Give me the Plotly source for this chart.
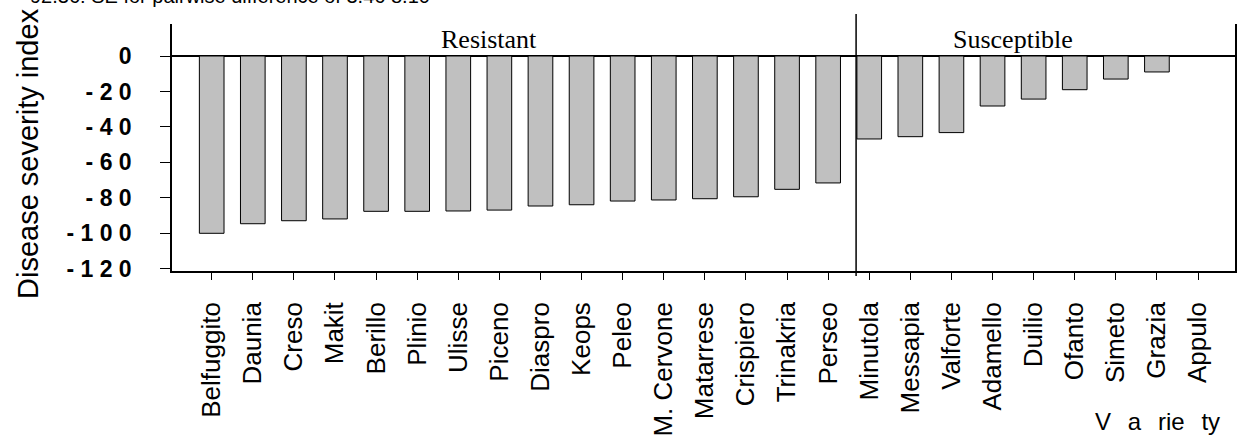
import plotly.graph_objects as go

varieties = ["Belfuggito", "Daunia", "Creso", "Makit", "Berillo", "Plinio", "Ulisse",
             "Piceno", "Diaspro", "Keops", "Peleo", "M. Cervone", "Matarrese", "Crispiero",
             "Trinakria", "Perseo", "Minutola", "Messapia", "Valforte", "Adamello", "Duilio",
             "Ofanto", "Simeto", "Grazia", "Appulo"]
severity = [-100.0, -94.6, -92.9, -91.9, -87.6, -87.6, -87.4, -86.9, -84.6, -83.9,
            -81.8, -81.2, -80.5, -79.4, -75.2, -71.6, -46.8, -45.5, -43.2, -28.2,
            -24.3, -19.0, -13.0, -9.0, 0.0]
y_ticks = [0, -20, -40, -60, -80, -100, -120]
y_ticktext = ["0", "- 2 0", "- 4 0", "- 6 0", "- 8 0", "- 1 0 0", "- 1 2 0"]
groups = ["Resistant", "Susceptible"]
group_centers = [6.75, 19.5]
split_pos = 15.68
note = "92.36: SE for pairwise difference of 3.46 8.10"

x_idx = list(range(len(varieties)))

fig = go.Figure()
fig.add_trace(go.Bar(
    x=x_idx, y=severity, width=0.6,
    marker=dict(color="#c0c0c0", line=dict(color="black", width=1)),
    showlegend=False,
))

W, H = 1237, 439
L, R, T, B = 172, 2, 24, 168
pw, ph = W - L - R, H - T - B

def px(xp):
    return (xp - L) / pw

def py(yp):
    return (H - B - yp) / ph

fig.update_layout(
    width=W, height=H,
    margin=dict(l=L, r=R, t=T, b=B, pad=0, autoexpand=False),
    paper_bgcolor="white", plot_bgcolor="white",
    font=dict(family="Liberation Sans, Arial, sans-serif", color="black"),
    xaxis=dict(
        range=[-0.966, 24.9], tickmode="array", tickvals=x_idx, ticktext=varieties,
        tickangle=-90, ticks="outside", ticklen=7, tickcolor="black", tickwidth=1,
        showline=True, linecolor="black", linewidth=1.5, showgrid=False, zeroline=False,
        tickfont=dict(size=26, family="Liberation Sans, Arial, sans-serif"),
        ticklabelstandoff=12, automargin=False,
    ),
    yaxis=dict(
        range=[-121.26, 18.05], tickmode="array", tickvals=y_ticks, ticktext=y_ticktext,
        ticks="outside", ticklen=10, tickcolor="black", tickwidth=1,
        showline=True, linecolor="black", linewidth=1.5, mirror=True,
        showgrid=False, zeroline=True, zerolinecolor="black", zerolinewidth=1.5,
        tickfont=dict(size=23, family="Liberation Sans, Arial, sans-serif", weight="bold"),
        ticklabelstandoff=24, automargin=False,
    ),
    bargap=0.4,
)

# separator between groups
fig.add_shape(type="line", xref="x", yref="paper", x0=split_pos, x1=split_pos,
              y0=py(276), y1=py(14), line=dict(color="black", width=1.5))

for g, c in zip(groups, group_centers):
    fig.add_annotation(text=g, xref="x", yref="paper", x=c, y=py(39), showarrow=False,
                       xanchor="center", yanchor="middle",
                       font=dict(size=26, family="Liberation Serif, Times New Roman, serif"))

fig.add_annotation(text="Disease severity index", xref="paper", yref="paper",
                   x=px(28), y=py(154), textangle=-90, showarrow=False,
                   xanchor="center", yanchor="middle",
                   font=dict(size=29))

fig.add_annotation(text="V\u2002\u2009a\u2002\u2009rie\u2002\u2009ty", xref="paper", yref="paper",
                   x=px(1222), y=py(421), showarrow=False, xanchor="right", yanchor="middle",
                   font=dict(size=24))

fig.add_annotation(text=note, xref="paper", yref="paper",
                   x=px(28), y=py(9), showarrow=False, xanchor="left", yanchor="bottom",
                   font=dict(size=20))

fig.write_html(
    "out.html",
    config={"displayModeBar": False},
    post_script="document.body.style.margin='0';document.body.style.padding='0';",
)
